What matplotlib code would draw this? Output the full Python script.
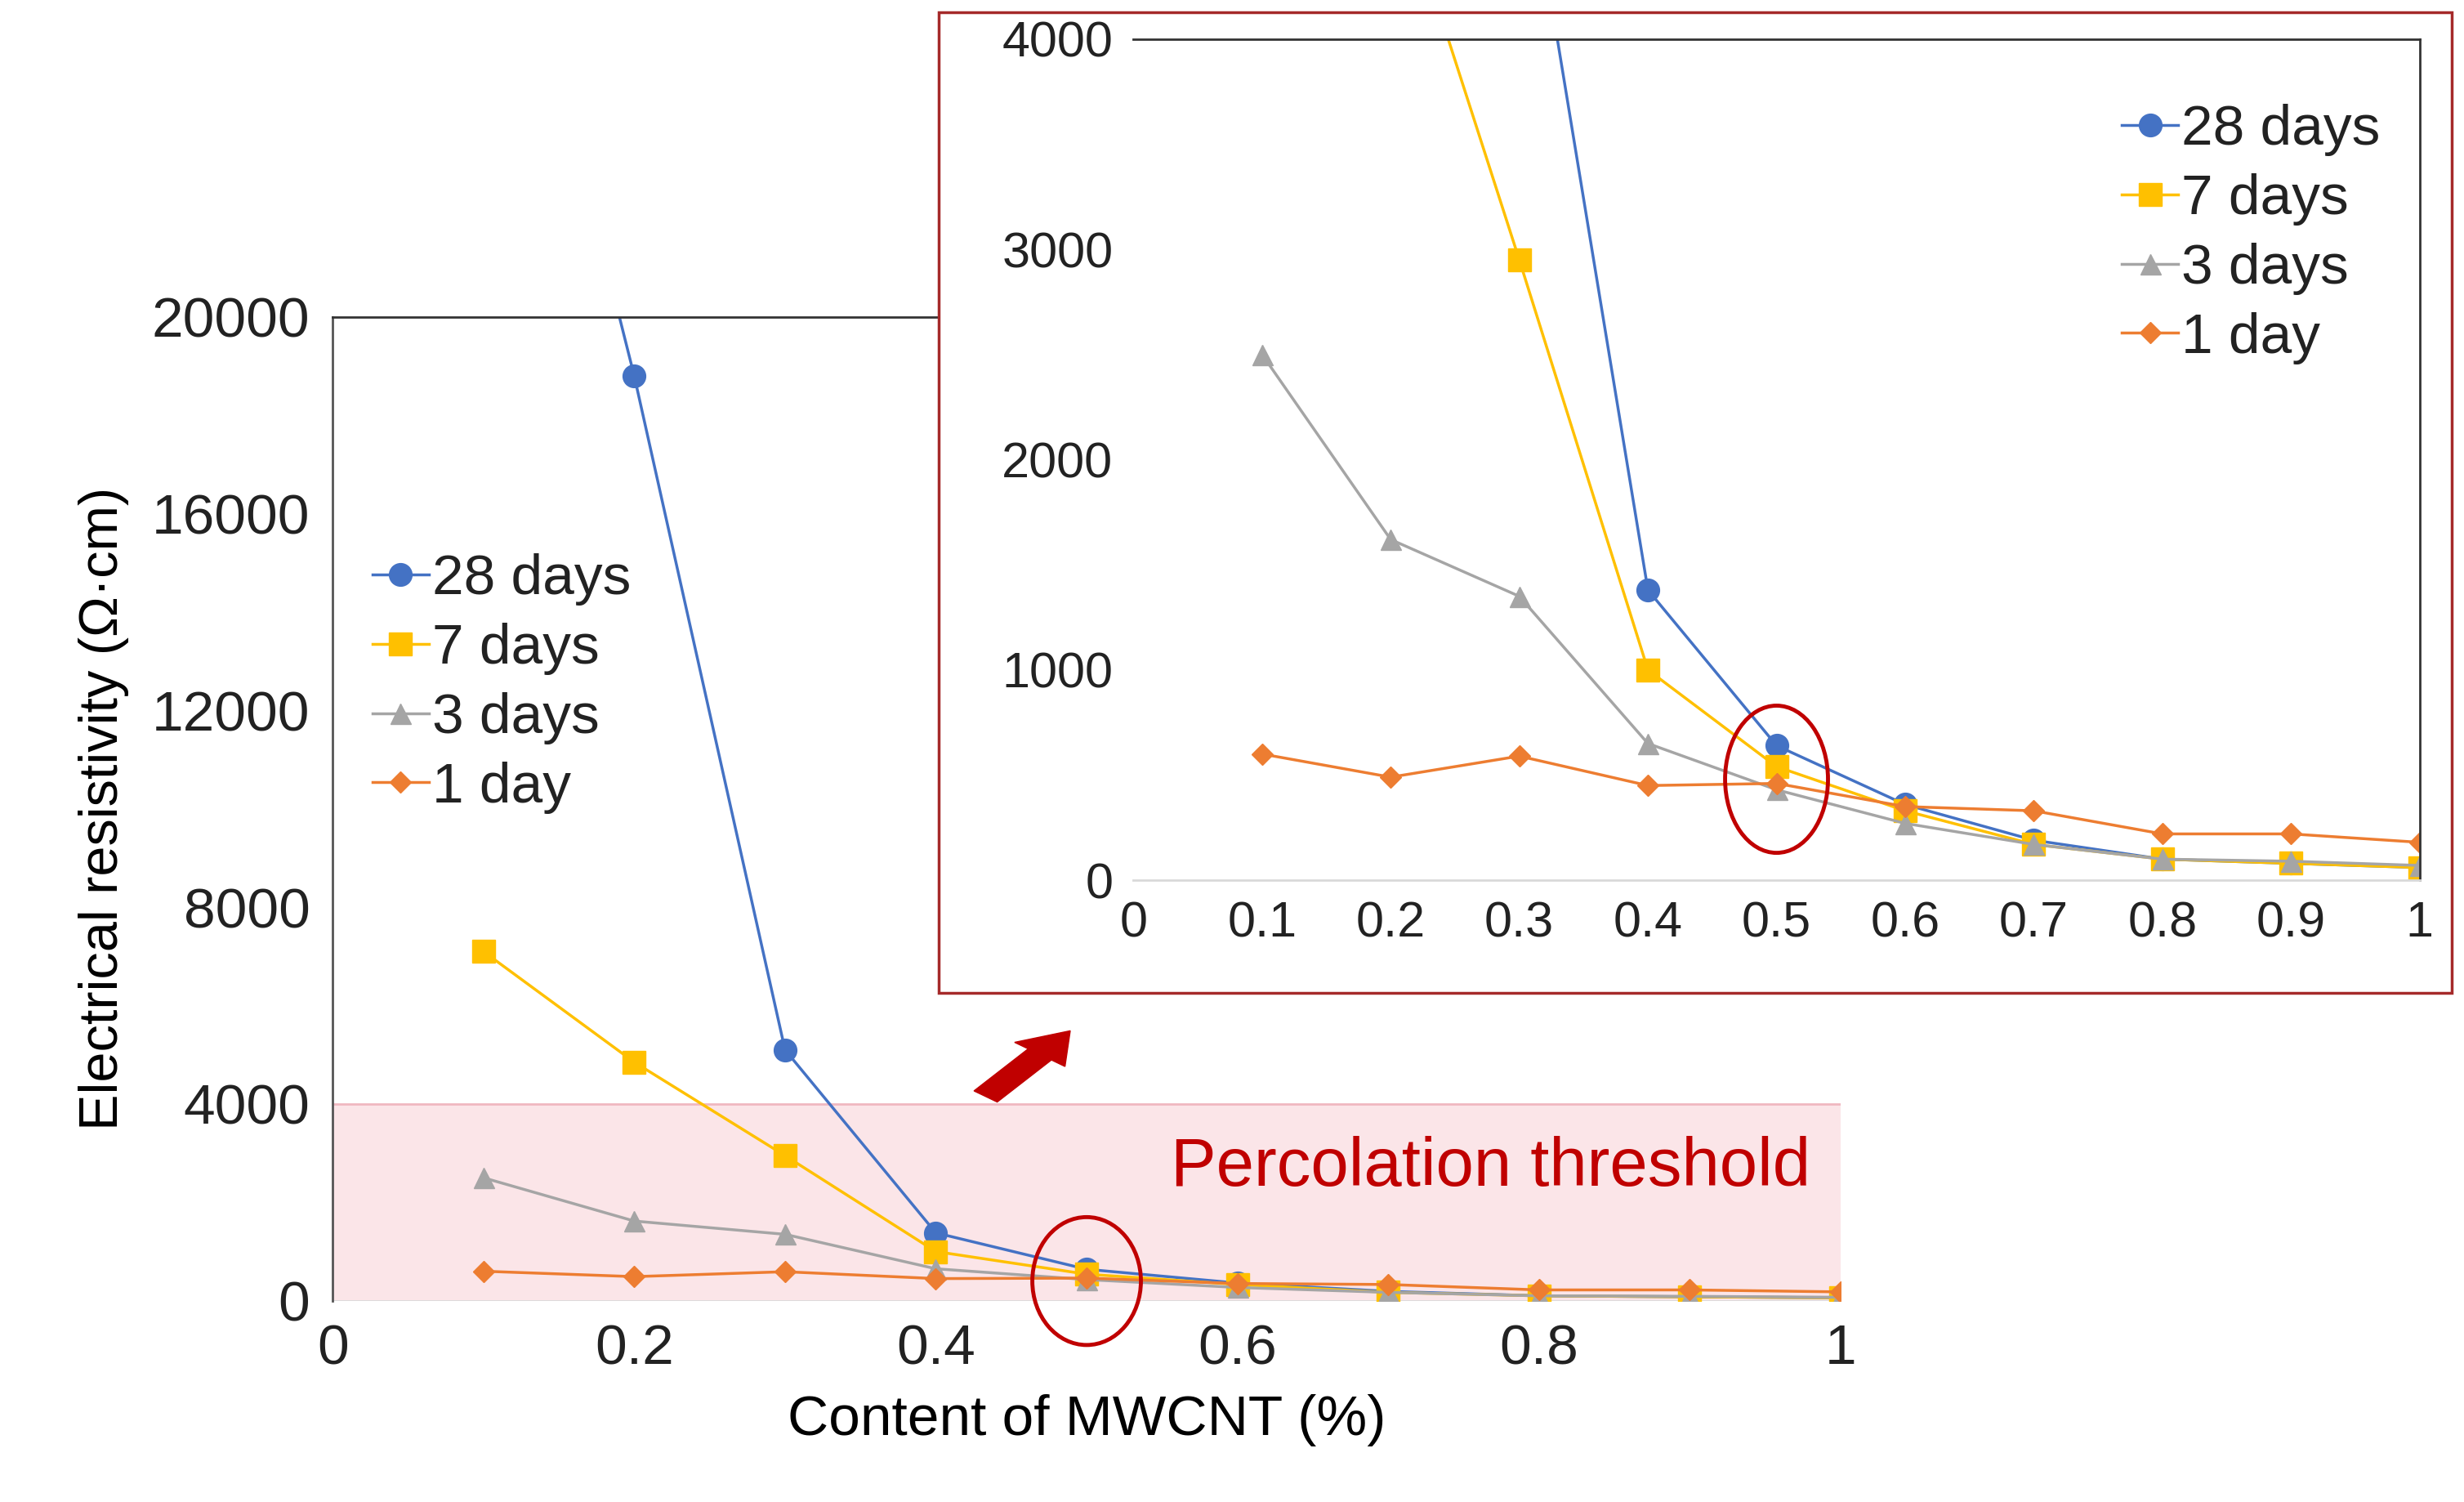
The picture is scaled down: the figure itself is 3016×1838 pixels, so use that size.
import numpy as np
import matplotlib.pyplot as plt
from matplotlib.patches import Ellipse, Rectangle, FancyArrow

content = [0.1, 0.2, 0.3, 0.4, 0.5, 0.6, 0.7, 0.8, 0.9, 1.0]
days28 = [31000, 18800, 5100, 1380, 640, 360, 190, 100, 80, 60]
days7 = [7100, 4850, 2950, 1000, 540, 330, 170, 100, 80, 60]
days3 = [2500, 1620, 1350, 650, 430, 270, 170, 100, 90, 70]
day1 = [600, 490, 590, 450, 460, 350, 330, 220, 220, 180]

series = [
    ("28 days", days28, "#4472c4", "o", 20),
    ("7 days", days7, "#ffc000", "s", 20),
    ("3 days", days3, "#a5a5a5", "^", 18),
    ("1 day", day1, "#ed7d31", "D", 13),
]

fs = 50
plt.rcParams['font.family'] = 'Liberation Sans'
plt.rcParams['text.color'] = '#222222'
fig = plt.figure(figsize=(30.16, 18.38), dpi=100)

# main plot
ax = fig.add_axes([0.135, 0.134, 0.612, 0.655])
for name, vals, c, m, ms in series:
    ax.plot(content, vals, color=c, marker=m, markersize=ms, lw=2.5, label=name)
ax.set_xlim(0, 1)
ax.set_ylim(0, 20000)
ax.set_xticks([0, 0.2, 0.4, 0.6, 0.8, 1])
ax.set_xticklabels(["0", "0.2", "0.4", "0.6", "0.8", "1"])
ax.set_yticks([0, 4000, 8000, 12000, 16000, 20000])
ax.tick_params(labelsize=fs, length=0, pad=20, labelcolor="#222222")
for s in ["right", "bottom"]:
    ax.spines[s].set_visible(False)
ax.spines["left"].set_color("#555555")
ax.spines["top"].set_color("#333333")
ax.spines["left"].set_linewidth(2)
ax.spines["top"].set_linewidth(2)
ax.axhspan(0, 4000, color="#fbe5e8", zorder=0)
ax.axhline(4000, color="#f0b8c0", lw=2, zorder=0)
ax.axhline(0, color="#d9d9d9", lw=2, zorder=0)
ax.text(0.98, 2700, "Percolation threshold", color="#c00000", fontsize=60, ha="right", va="center")
ax.add_patch(Ellipse((0.5, 400), 0.072, 2600, fill=False, ec="#c00000", lw=3.5,
                     zorder=10, clip_on=False))
ax.set_xlabel("Content of MWCNT (%)", fontsize=fs, labelpad=16)
ax.set_ylabel("Electrical resistivity (\u03a9\u00b7cm)", fontsize=fs - 2, labelpad=20)
ax.legend(loc="upper left", bbox_to_anchor=(0.0, 0.8), fontsize=fs, frameon=False,
          handlelength=1.0, handletextpad=0.05, labelspacing=0.3, borderpad=0.2)

# inset frame
fig.patches.append(Rectangle((0.381, 0.339), 0.614, 0.653, transform=fig.transFigure,
                             fc="white", ec="#a52a2a", lw=2.5, zorder=5))
fig.patches.append(FancyArrow(0.4, 0.27, 0.022, 0.028, width=0.012, head_width=0.026,
                              head_length=0.02, transform=fig.transFigure,
                              color="#c00000", zorder=6))

ins = fig.add_axes([0.460, 0.414, 0.522, 0.560], zorder=6)
for name, vals, c, m, ms in series:
    ins.plot(content, vals, color=c, marker=m, markersize=ms, lw=2.5, label=name)
ins.set_xlim(0, 1)
ins.set_ylim(0, 4000)
ins.set_xticks(np.round(np.arange(0, 1.01, 0.1), 1))
ins.set_xticklabels(["0", "0.1", "0.2", "0.3", "0.4", "0.5", "0.6", "0.7", "0.8", "0.9", "1"])
ins.set_yticks([0, 1000, 2000, 3000, 4000])
ins.tick_params(labelsize=fs - 6, length=0, pad=18, labelcolor="#222222")
for s in ["right", "top"]:
    ins.spines[s].set_color("#333333")
    ins.spines[s].set_linewidth(2)
ins.spines["left"].set_visible(False)
ins.spines["bottom"].set_color("#d9d9d9")
ins.spines["bottom"].set_linewidth(2)
ins.add_patch(Ellipse((0.5, 480), 0.08, 700, fill=False, ec="#c00000", lw=3.5, zorder=10))
ins.legend(loc="upper right", bbox_to_anchor=(1.0, 0.97), fontsize=fs, frameon=False,
           handlelength=1.0, handletextpad=0.05, labelspacing=0.3, borderpad=0.2)

fig.savefig("out.png", dpi=100)
